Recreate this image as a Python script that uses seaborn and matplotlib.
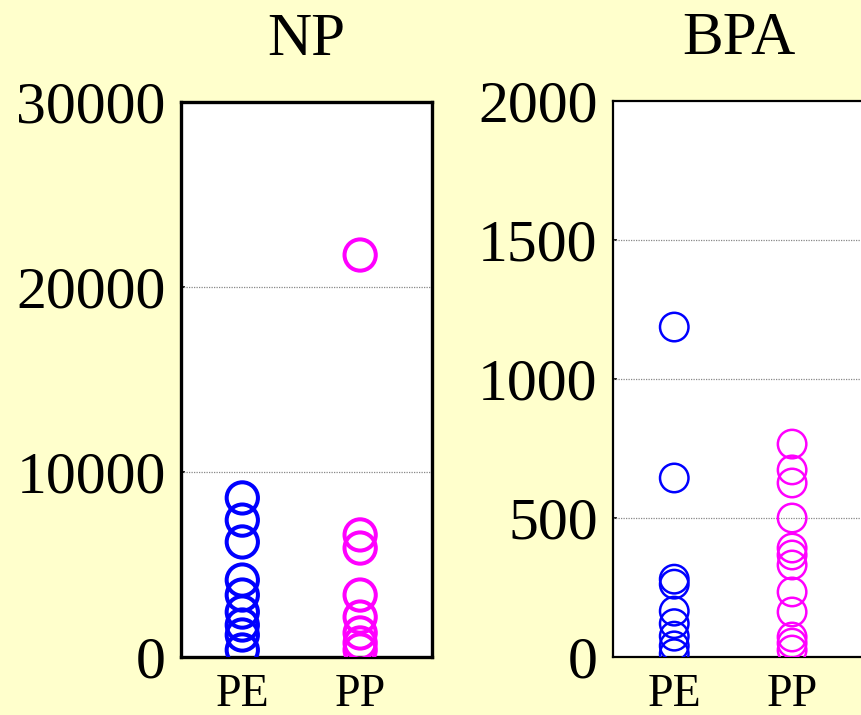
import numpy as np
import pandas as pd
import matplotlib
matplotlib.use("Agg")
import matplotlib.pyplot as plt
import seaborn as sns

# ------------------------------------------------------------
# Data
# ------------------------------------------------------------
np_pe = [8600, 7400, 6220, 4160, 3350, 2430, 1730, 1190, 380]
np_pp = [21730, 6600, 5890, 3350, 2160, 1300, 760, 380]

bpa_pe = [1187, 644, 280, 262, 165, 120, 75, 40, 12]
bpa_pp = [766, 673, 626, 500, 392, 367, 331, 234, 162, 72, 50, 25]

panels = [
    ("NP", np_pe, np_pp, 30000, [0, 10000, 20000, 30000]),
    ("BPA", bpa_pe, bpa_pp, 2000, [0, 500, 1000, 1500, 2000]),
]
materials = ["PE", "PP"]
palette = {"PE": "#0000FF", "PP": "#FF00FF"}

# ------------------------------------------------------------
# Figure
# ------------------------------------------------------------
sns.set_style("white")
plt.rcParams["font.family"] = ["Liberation Serif", "DejaVu Serif"]
plt.rcParams["text.color"] = "black"
plt.rcParams["xtick.color"] = "black"
plt.rcParams["ytick.color"] = "black"

bg = "#FFFFCC"
fig = plt.figure(figsize=(8.62, 7.15), dpi=100, facecolor=bg)

axes_pos = [
    [0.2100, 0.0811, 0.2912, 0.7762],
    [0.7111, 0.0811, 0.2912, 0.7776],
]
marker_size = [22.5, 20.5]
marker_lw = [2.9, 1.8]
spine_lw = [2.4, 1.6]

for i, (title, pe_vals, pp_vals, ymax, yticks) in enumerate(panels):
    ax = fig.add_axes(axes_pos[i])
    df = pd.DataFrame({
        "material": ["PE"] * len(pe_vals) + ["PP"] * len(pp_vals),
        "value": pe_vals + pp_vals,
    })
    sns.stripplot(data=df, x="material", y="value", hue="material",
                  order=materials, palette=palette, jitter=False,
                  size=marker_size[i], linewidth=marker_lw[i],
                  legend=False, ax=ax, zorder=3)

    # open circles: move fill colour to the edge
    for coll in ax.collections:
        fc = coll.get_facecolors()
        if len(fc):
            coll.set_edgecolors(fc)
            coll.set_facecolors("none")
            coll.set_linewidth(marker_lw[i])

    ax.set_facecolor("white")
    ax.set_xlim(-0.52, 1.61)
    ax.set_ylim(0, ymax)
    ax.set_yticks(yticks)
    ax.set_yticklabels([str(t) for t in yticks])
    ax.set_xlabel("")
    ax.set_ylabel("")
    ax.set_title(title, fontsize=44, pad=34, color="black")

    for t in yticks[1:-1]:
        ax.axhline(t, color="#888888", lw=0.9, ls=(0, (1, 1)), zorder=1)

    ax.tick_params(axis="y", labelsize=43, pad=11, direction="in",
                   length=3, width=1.2, color="black", labelcolor="black",
                   left=True)
    ax.tick_params(axis="x", labelsize=33, pad=12, length=0,
                   labelcolor="black")

    for sp in ax.spines.values():
        sp.set_visible(True)
        sp.set_color("black")
        sp.set_linewidth(spine_lw[i])

fig.savefig("out.png", dpi=100, facecolor=bg)
